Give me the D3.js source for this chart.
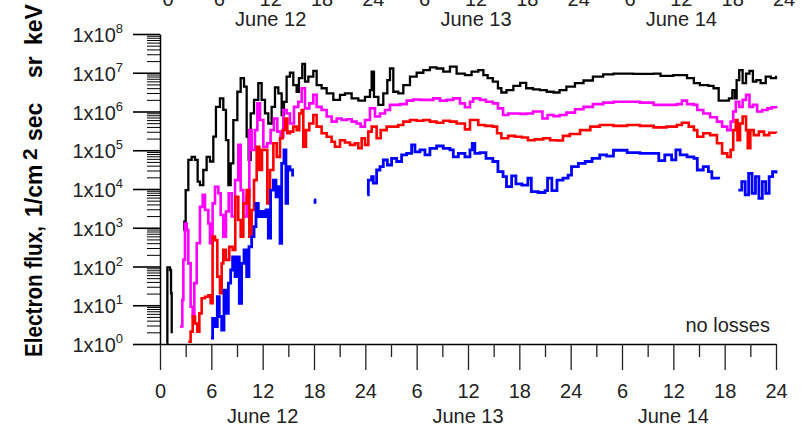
<!DOCTYPE html>
<html>
<head>
<meta charset="utf-8">
<script src="https://cdn.jsdelivr.net/npm/d3@7.9.0/dist/d3.min.js"></script>
<style>
  body { margin: 0; background: #fff; }
  svg { display: block; font-family: "Liberation Sans", Arial, sans-serif; }
</style>
</head>
<body>
<svg id="chart" width="807" height="428"></svg>
<script>
// hours since June 12 00:00, and log10 of flux (null = gap in the record)
const blackFlux = [
  [0.78, 0.02], [0.86, 1.98], [1.17, 1.91], [1.29, 1.31], [1.37, 0.28], [1.48, null],
  [2.73, 2.94], [2.84, 3.16], [3.0, 3.97], [3.31, 4.75], [3.7, 4.83], [4.09, 4.75], [4.4, 4.19],
  [4.67, 4.10], [5.06, 4.49], [5.45, 4.83], [5.84, 4.71], [6.23, 5.35], [6.54, 6.12], [7.01, 6.34],
  [7.4, 6.04], [7.71, 5.26], [7.99, 4.10], [8.26, 4.66], [8.57, 5.78], [9.04, 6.51], [9.43, 6.86],
  [9.82, 6.64], [10.13, 5.35], [10.36, 4.75], [10.6, 5.95], [10.99, 6.30], [11.49, 6.73], [11.88, 6.30],
  [12.27, 5.95], [12.66, 5.69], [13.05, 6.12], [13.44, 6.62], [13.83, 6.47], [14.22, 5.91], [14.49, 6.25],
  [14.8, 6.90], [15.19, 7.00], [15.58, 6.68], [15.97, 6.51], [16.24, 6.86], [16.63, 7.23], [16.95, 6.77],
  [17.34, 6.90], [17.92, 7.05], [18.31, 6.68], [18.89, 6.60], [19.48, 6.47], [20.26, 6.30], [21.04, 6.43],
  [21.62, 6.47], [22.4, 6.34], [23.18, 6.28], [23.96, 6.38], [24.54, 6.55], [24.74, 7.03], [25.01, 6.38],
  [25.52, 6.17], [26.1, 6.47], [26.57, 6.81], [26.88, 7.11], [27.27, 6.51], [27.85, 6.47], [28.44, 6.68],
  [29.22, 6.90], [30.0, 7.00], [30.78, 7.07], [31.55, 7.14], [32.33, 7.11], [33.11, 7.03], [33.89, 7.16],
  [34.67, 6.98], [35.64, 6.94], [36.42, 7.03], [37.2, 7.07], [37.8, 6.94], [38.3, 6.86], [38.9, 6.77],
  [39.5, 6.60], [39.9, 6.49], [40.5, 6.55], [41.3, 6.66], [42.1, 6.74], [42.8, 6.60], [43.6, 6.57],
  [44.4, 6.55], [45.2, 6.51], [46.0, 6.49], [46.7, 6.55], [47.5, 6.64], [48.5, 6.73], [49.5, 6.80],
  [50.6, 6.90], [51.8, 6.96], [53.0, 6.98], [55.3, 6.97], [57.7, 6.98], [58.5, 6.92], [60.0, 6.94],
  [61.6, 6.86], [62.4, 6.73], [63.1, 6.68], [64.1, 6.66], [64.7, 6.60], [65.3, 6.28], [66.5, 6.34],
  [66.9, 6.55], [67.2, 6.34], [67.4, 6.81], [67.7, 7.07], [68.1, 6.73], [68.5, 6.98], [68.9, 7.05],
  [69.3, 6.77], [69.7, 6.81], [70.2, 6.73], [70.8, 6.90], [71.4, 6.86], [72.0, 6.92]
];

const magentaFlux = [
  [2.34, 0.45], [2.61, 1.14], [2.73, 2.17], [2.92, 3.11], [3.12, 2.94], [3.31, 2.08], [3.58, 0.96],
  [3.82, 0.71], [4.01, 1.57], [4.29, 2.60], [4.67, 3.54], [4.99, 3.85], [5.26, 3.46], [5.65, 3.11],
  [5.84, 2.60], [6.15, 3.63], [6.43, 4.06], [6.82, 3.89], [7.09, 3.33], [7.4, 2.77], [7.71, 3.42],
  [8.03, 3.89], [8.38, 3.29], [8.77, 4.23], [9.15, 5.14], [9.43, 3.97], [9.74, 3.29], [10.13, 3.80],
  [10.44, 5.52], [10.71, 5.01], [11.1, 5.52], [11.38, 6.21], [11.69, 5.78], [12.08, 5.09], [12.54, 5.18],
  [12.93, 5.52], [13.32, 5.82], [13.71, 5.48], [14.1, 5.35], [14.41, 6.04], [14.8, 5.95], [15.19, 5.69],
  [15.66, 6.12], [16.17, 6.25], [16.56, 6.60], [16.95, 6.08], [17.45, 6.21], [17.92, 6.43], [18.31, 6.12],
  [18.89, 6.04], [19.48, 5.87], [20.06, 5.74], [20.65, 5.82], [21.23, 5.78], [21.82, 5.80], [22.4, 5.74],
  [22.98, 5.69], [23.45, 5.61], [23.96, 5.78], [24.54, 6.08], [25.13, 5.87], [25.71, 5.95], [26.3, 6.04],
  [26.88, 6.17], [28.05, 6.19], [28.83, 6.28], [29.61, 6.31], [30.39, 6.30], [31.94, 6.34], [32.72, 6.28],
  [33.5, 6.30], [34.28, 6.34], [35.06, 6.21], [35.64, 6.11], [36.23, 6.25], [36.6, 6.34], [37.4, 6.30],
  [38.1, 6.25], [38.9, 6.21], [39.5, 6.08], [40.1, 5.91], [40.7, 5.95], [42.1, 5.94], [42.8, 5.95],
  [43.6, 6.00], [44.7, 5.82], [45.3, 5.91], [46.0, 5.88], [46.7, 5.91], [47.5, 5.97], [48.5, 6.06],
  [49.5, 6.12], [50.6, 6.19], [51.8, 6.23], [53.0, 6.25], [56.1, 6.23], [57.7, 6.17], [60.4, 6.19],
  [61.0, 6.28], [61.6, 6.19], [62.4, 6.17], [62.8, 6.04], [63.5, 5.95], [64.3, 5.85], [65.1, 5.74],
  [65.7, 5.61], [66.3, 5.52], [66.7, 5.74], [67.0, 6.00], [67.3, 6.25], [67.7, 6.12], [68.1, 6.30],
  [68.5, 6.43], [68.9, 6.12], [69.3, 6.17], [69.8, 6.00], [70.4, 6.04], [71.0, 6.08], [71.5, 6.11], [72.0, 6.08]
];

const redFlux = [
  [3.31, 0.06], [3.58, 0.32], [3.82, 0.71], [4.09, 0.53], [4.36, 0.32], [4.6, 0.79], [4.87, 1.18],
  [5.26, 1.22], [5.65, 1.26], [5.92, 1.05], [6.15, 2.77], [6.43, 2.68], [6.7, 1.74], [7.01, 1.31],
  [7.21, 2.08], [7.4, 2.43], [7.71, 2.17], [8.1, 2.51], [8.49, 2.43], [8.8, 3.80], [9.15, 3.20],
  [9.43, 2.77], [9.74, 3.63], [10.13, 3.97], [10.44, 2.77], [10.71, 3.46], [10.99, 4.23], [11.3, 5.09],
  [11.61, 4.49], [11.92, 5.01], [12.27, 5.01], [12.54, 3.63], [12.86, 4.49], [13.25, 5.18], [13.64, 4.83],
  [14.03, 5.31], [14.34, 5.52], [14.61, 5.82], [14.88, 5.44], [15.19, 5.48], [15.58, 5.61], [15.97, 5.52],
  [16.28, 5.95], [16.56, 6.04], [16.75, 5.09], [17.06, 5.52], [17.45, 5.69], [17.92, 5.91], [18.31, 5.61],
  [18.89, 5.44], [19.48, 5.35], [20.06, 5.22], [20.45, 5.09], [21.04, 5.26], [21.62, 5.20], [22.21, 5.14],
  [22.79, 5.18], [23.18, 5.05], [23.57, 5.31], [23.96, 5.14], [24.35, 5.48], [24.74, 5.61], [25.32, 5.31],
  [25.79, 5.52], [26.49, 5.61], [27.85, 5.65], [28.44, 5.74], [29.22, 5.78], [30.0, 5.76], [30.78, 5.78],
  [31.55, 5.74], [32.33, 5.71], [33.11, 5.76], [33.89, 5.74], [34.67, 5.69], [35.64, 5.54], [36.23, 5.78],
  [37.2, 5.65], [38.0, 5.63], [38.9, 5.61], [39.4, 5.44], [39.9, 5.31], [40.7, 5.37], [41.5, 5.35],
  [42.3, 5.33], [43.0, 5.26], [43.8, 5.28], [44.8, 5.31], [45.6, 5.26], [46.4, 5.25], [47.1, 5.37],
  [47.9, 5.42], [49.1, 5.52], [50.3, 5.61], [51.4, 5.65], [53.0, 5.63], [54.6, 5.65], [56.1, 5.63],
  [57.7, 5.59], [59.2, 5.61], [60.4, 5.65], [61.0, 5.71], [61.8, 5.61], [62.4, 5.52], [62.8, 5.35],
  [63.5, 5.44], [64.3, 5.39], [65.1, 5.18], [65.7, 4.92], [66.3, 4.83], [66.7, 5.01], [67.0, 5.52],
  [67.3, 5.78], [67.5, 5.26], [67.8, 5.69], [68.1, 5.87], [68.5, 5.52], [68.7, 5.05], [69.0, 5.52],
  [69.4, 5.39], [70.0, 5.48], [70.6, 5.39], [71.2, 5.45], [72.0, 5.44]
];

const blueFlux = [
  [5.96, 0.15], [6.15, 0.66], [6.43, 0.45], [6.7, 1.22], [6.93, 0.71], [7.21, 0.36], [7.48, 1.39],
  [7.71, 0.79], [7.99, 1.57], [8.26, 1.91], [8.49, 2.25], [8.77, 1.74], [9.04, 2.25], [9.27, 1.05],
  [9.54, 2.08], [9.82, 2.43], [10.13, 1.74], [10.4, 2.51], [10.71, 2.77], [10.99, 3.03], [11.22, 3.63],
  [11.49, 3.29], [11.77, 3.42], [12.08, 3.29], [12.39, 3.46], [12.66, 2.73], [12.93, 3.97], [13.25, 4.23],
  [13.56, 3.80], [13.83, 4.06], [14.03, 2.60], [14.22, 4.66], [14.49, 5.01], [14.72, 3.63], [14.92, 4.58],
  [15.19, 4.49], [15.5, 4.32], [15.62, null],
  [18.0, 3.72], [18.12, 3.62], [18.2, null],
  [24.23, 3.85], [24.35, 4.23], [24.74, 4.32], [24.93, 4.15], [25.32, 4.49], [25.71, 4.58], [26.1, 4.75],
  [26.57, 4.62], [27.07, 4.79], [27.66, 4.71], [28.24, 4.88], [28.83, 4.92], [29.41, 5.14], [29.8, 4.96],
  [30.39, 5.01], [30.97, 4.88], [31.55, 5.05], [32.33, 5.11], [33.11, 5.05], [33.89, 5.01], [34.28, 4.83],
  [34.87, 4.92], [35.64, 4.83], [36.23, 5.01], [36.5, 5.18], [36.8, 4.92], [37.4, 4.94], [38.1, 4.79],
  [38.9, 4.71], [39.5, 4.45], [40.1, 4.32], [40.5, 4.06], [41.1, 4.34], [41.6, 4.13], [42.3, 4.10],
  [43.0, 4.28], [43.4, 3.93], [44.2, 3.91], [45.0, 3.96], [45.3, 4.28], [45.8, 3.96], [46.4, 4.23],
  [47.1, 4.28], [47.7, 4.36], [48.1, 4.58], [48.9, 4.66], [49.7, 4.71], [50.5, 4.79], [51.4, 4.88],
  [52.2, 4.85], [53.0, 5.00], [54.6, 4.94], [56.1, 4.92], [58.3, 4.73], [59.0, 4.88], [59.8, 4.75],
  [60.3, 5.01], [60.8, 4.88], [61.6, 4.83], [62.4, 4.79], [62.8, 4.49], [63.5, 4.58], [64.1, 4.45],
  [64.5, 4.28], [65.3, 4.25], [65.4, null],
  [67.6, 3.97], [68.0, 4.19], [68.4, 3.85], [68.8, 4.40], [69.2, 3.89], [69.6, 4.32], [70.0, 3.76],
  [70.4, 4.19], [70.8, 3.89], [71.2, 4.32], [71.6, 4.45], [72.0, 4.40]
];

const majorHours = [0, 6, 12, 18, 24, 30, 36, 42, 48, 54, 60, 66, 72];
const minorHours = [3, 9, 15, 21, 27, 33, 39, 45, 51, 57, 63, 69];
const hourLabels = ['0', '6', '12', '18', '24', '6', '12', '18', '24', '6', '12', '18', '24'];
const dayNames = ['June 12', 'June 13', 'June 14'];
const dayMid = [12, 36, 60];
const decades = [0, 1, 2, 3, 4, 5, 6, 7, 8];

const FONT = '"Liberation Sans", Arial, sans-serif';
const svg = d3.select('#chart');

const x = d3.scaleLinear().domain([0, 72]).range([160, 776]);
const y = d3.scaleLog().domain([1, 1e8]).range([344, 34]);

// axis of the panel above, mostly cut off by the top edge
svg.append('g').selectAll('text').data(majorHours).join('text')
  .attr('x', d => x(d) + 8).attr('y', 6)
  .attr('text-anchor', 'middle').attr('font-size', 20).attr('fill', '#222')
  .text((d, i) => hourLabels[i]);
svg.append('g').selectAll('text').data(dayNames).join('text')
  .attr('x', (d, i) => x(dayMid[i]) + 8).attr('y', 26)
  .attr('text-anchor', 'middle').attr('font-size', 20).attr('fill', '#222')
  .text(d => d);

// x axis
const gx = svg.append('g').attr('transform', 'translate(0,344)')
  .call(d3.axisBottom(x).tickValues(majorHours).tickSize(26).tickSizeOuter(0)
    .tickFormat((d, i) => hourLabels[i]));
gx.attr('font-family', FONT).attr('font-size', 20);
gx.select('.domain').attr('stroke', '#000').attr('stroke-width', 1.5);
gx.selectAll('.tick line').attr('stroke', '#222').attr('stroke-width', 1.3);
gx.selectAll('.tick text').attr('y', 54).attr('dy', null).attr('fill', '#222');

const gxm = svg.append('g').attr('transform', 'translate(0,344)')
  .call(d3.axisBottom(x).tickValues(minorHours).tickSize(13).tickFormat(''));
gxm.select('.domain').remove();
gxm.selectAll('.tick line').attr('stroke', '#222').attr('stroke-width', 1.3);

svg.append('g').selectAll('text').data(dayNames).join('text')
  .attr('x', (d, i) => x(dayMid[i])).attr('y', 423)
  .attr('text-anchor', 'middle').attr('font-size', 20).attr('fill', '#222')
  .text(d => d);

// y axis
const gy = svg.append('g').attr('transform', 'translate(160,0)')
  .call(d3.axisLeft(y).tickValues(decades.map(k => Math.pow(10, k))).tickSize(27).tickSizeOuter(0).tickFormat(''));
gy.select('.domain').attr('stroke', '#000').attr('stroke-width', 1.5);
gy.selectAll('.tick line').attr('stroke', '#000').attr('stroke-width', 1.6);

const minorY = y.ticks().filter(v => Math.abs(Math.log10(v) - Math.round(Math.log10(v))) > 1e-6);
const gym = svg.append('g').attr('transform', 'translate(160,0)')
  .call(d3.axisLeft(y).tickValues(minorY).tickSize(13).tickFormat(''));
gym.select('.domain').remove();
gym.selectAll('.tick line').attr('stroke', '#000').attr('stroke-width', 1);

const ylab = svg.append('g').selectAll('text').data(decades).join('text')
  .attr('x', 123).attr('y', k => y(Math.pow(10, k)) + 8)
  .attr('text-anchor', 'end').attr('font-size', 20).attr('fill', '#222');
ylab.append('tspan').text('1x10');
ylab.append('tspan').attr('font-size', 13).attr('dy', -9).text(k => k);

// y title, pieces placed along the rotated baseline
const title = svg.append('text')
  .attr('transform', 'translate(42,357) rotate(-90)')
  .attr('font-size', 23).attr('font-weight', 'bold').attr('fill', '#000');
title.append('tspan').attr('x', 0).attr('textLength', 131).attr('lengthAdjust', 'spacingAndGlyphs')
  .text('Electron flux,');
title.append('tspan').attr('x', 140).text('1/cm');
title.append('tspan').attr('x', 197).attr('dy', -5).attr('font-size', 21).text('2');
title.append('tspan').attr('x', 216).attr('dy', 5).text('sec');
title.append('tspan').attr('x', 279).text('sr');
title.append('tspan').attr('x', 312).text('keV');

// curves
const line = d3.line()
  .defined(d => d[1] !== null)
  .x(d => x(d[0]))
  .y(d => y(Math.pow(10, d[1])))
  .curve(d3.curveStepAfter);

const series = [
  { data: blackFlux, color: '#000000', w: 2.3 },
  { data: magentaFlux, color: '#ff00ff', w: 2.6 },
  { data: redFlux, color: '#ff0000', w: 2.6 },
  { data: blueFlux, color: '#0000ff', w: 2.8 }
];
svg.append('g').selectAll('path').data(series).join('path')
  .attr('d', s => line(s.data))
  .attr('fill', 'none')
  .attr('stroke', s => s.color)
  .attr('stroke-width', s => s.w)
  .attr('stroke-linejoin', 'miter');

svg.append('text')
  .attr('x', 770).attr('y', 332).attr('text-anchor', 'end')
  .attr('font-size', 20).attr('fill', '#222')
  .text('no losses');
</script>
</body>
</html>
